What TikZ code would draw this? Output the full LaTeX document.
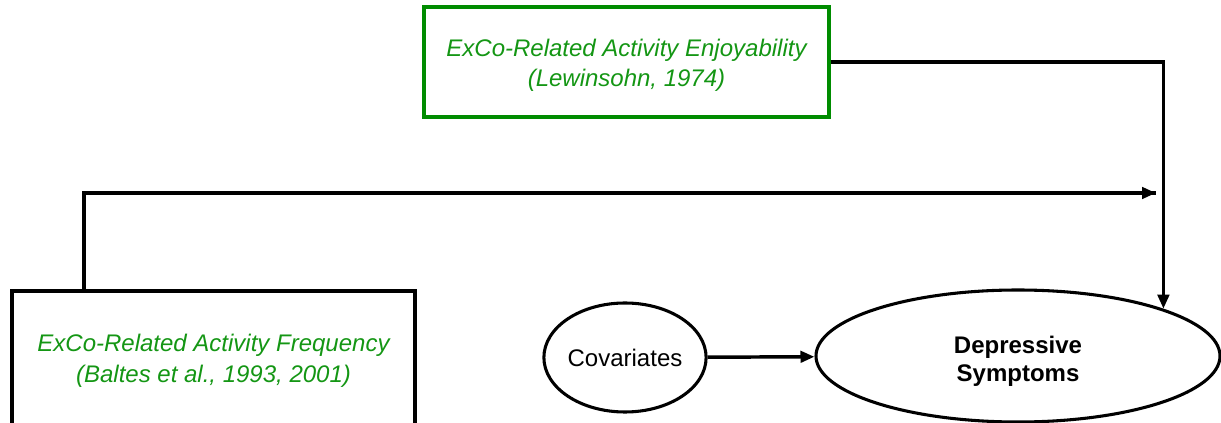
\documentclass[tikz,border=0pt]{standalone}
\usepackage{fontspec}
\setmainfont{Liberation Sans}
\usetikzlibrary{arrows.meta,shapes.geometric}
\definecolor{cgreen}{RGB}{0,140,0}
\definecolor{tgreen}{RGB}{20,150,20}
\begin{document}
\begin{tikzpicture}[x=0.75pt,y=-0.75pt,
  conn/.style={line width=2.6pt,-{Triangle[length=10.5pt,width=8.5pt]}},
  plain/.style={line width=2.6pt},
  gtext/.style={font=\fontsize{18pt}{23pt}\selectfont\itshape,text=tgreen,align=center},
  oval/.style={draw,ellipse,line width=2.3pt,inner sep=0pt,align=center,
    font=\fontsize{18pt}{21pt}\selectfont}]
\useasboundingbox (0,0) rectangle (1221,423);
\clip (0,0) rectangle (1221,423);
% predictor boxes
\node[draw=cgreen,line width=2.6pt,minimum width=303.75pt,minimum height=82.5pt,gtext,
  text height=41pt]
  (enjoy) at (626.5,62) {ExCo-Related Activity Enjoyability\\(Lewinsohn, 1974)};
\node[draw=black,line width=2.6pt,minimum width=302.25pt,minimum height=105pt,gtext]
  (freq) at (213.5,361) {ExCo-Related Activity Frequency\\(Baltes et al., 1993, 2001)};
% outcome and covariates
\node[oval,minimum width=120pt,minimum height=81.75pt] (cov) at (625,357.5) {Covariates};
\node[oval,minimum width=303pt,minimum height=99pt,font=\fontsize{18pt}{21pt}\selectfont\bfseries,
  text height=41.5pt]
  (dep) at (1018,356) {Depressive\\Symptoms};
% paths
\coordinate (fUp) at (84,193);
\coordinate (fTip) at (1156,193);
\draw[plain] (freq.north -| fUp) -- (fUp) -- (fTip);
\draw[conn] (fUp) -- (fTip);
\draw[conn] (enjoy.east) -| (dep.18);
\draw[conn] (cov) -- (dep);
\end{tikzpicture}
\end{document}
